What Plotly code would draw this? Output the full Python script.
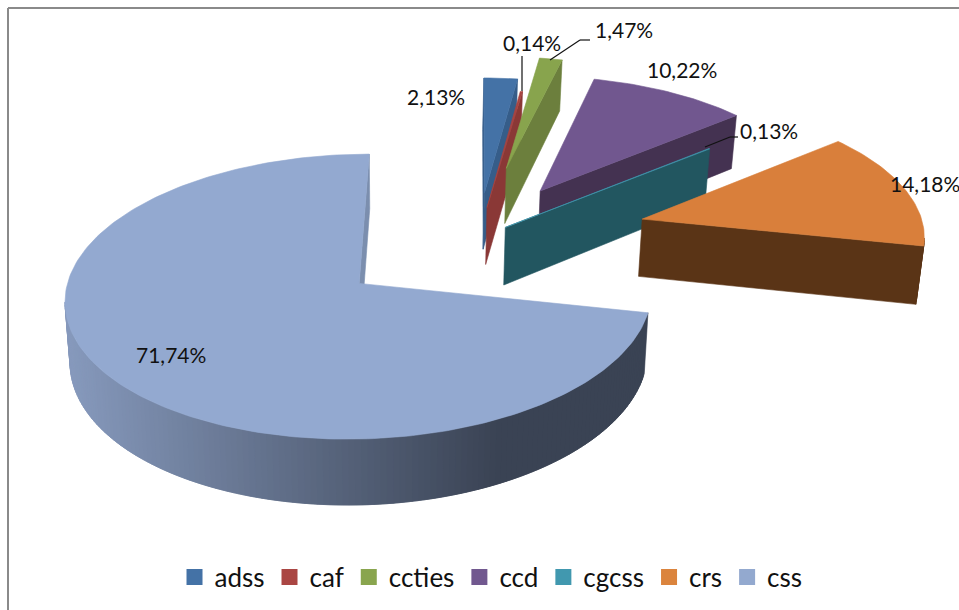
import math
import plotly.graph_objects as go

# data
categories = ["adss", "caf", "ccties", "ccd", "cgcss", "crs", "css"]
shares = [2.13, 0.14, 1.47, 10.22, 0.13, 14.18, 71.74]
labels = ["2,13%", "0,14%", "1,47%", "10,22%", "0,13%", "14,18%", "71,74%"]

# style
top_colors = ["#4472a6", "#a84441", "#88a44d", "#71578f", "#4197ae", "#d97f3b", "#93a9d0"]
wall_colors = ["#365d89", "#8a3836", "#6c7f3d", "#443251", "#225660", "#5a3416", "#7b8eae"]
legend_colors = ["#4472a6", "#aa4643", "#89a54e", "#71588f", "#4198af", "#db843d", "#93a9cf"]
explode = [0.35, 0.235, 0.56, 0.43, 0.126, 0.605, 0.525]
label_xy = [(436, 96), (532, 42), (624, 29), (682, 69), (769, 130), (925, 183), (171, 354)]
CX, CY, BX, BY, PERSP, H = 478, 238, 283, 133, 0.09, 58
VANISH_X, BOTTOM_SCALE = 400, 0.985


def project(x, y, z=0.0):
    f = 1 / (1 + PERSP * y)
    sx = CX + BX * x * f
    if z:
        sx = VANISH_X + (sx - VANISH_X) * BOTTOM_SCALE
    return sx, CY - BY * y * f + H * z * f


def lerp_hex(a, b, t):
    ca = [int(a[i:i + 2], 16) for i in (1, 3, 5)]
    cb = [int(b[i:i + 2], 16) for i in (1, 3, 5)]
    return "#%02x%02x%02x" % tuple(round(p + (q - p) * t) for p, q in zip(ca, cb))


fig = go.Figure()


def poly(pts, color):
    fig.add_trace(go.Scatter(
        x=[p[0] for p in pts] + [pts[0][0]], y=[p[1] for p in pts] + [pts[0][1]],
        mode="lines", fill="toself", fillcolor=color,
        line=dict(color=color, width=0.6),
        hoverinfo="skip", showlegend=False))


start = 0.0
total = sum(shares)
for i, share in enumerate(shares):
    a0 = start
    a1 = start + share / total * 2 * math.pi
    start = a1
    mid = (a0 + a1) / 2
    ox, oy = explode[i] * math.sin(mid), explode[i] * math.cos(mid)
    n = max(2, int((a1 - a0) / 0.02))
    world = [(ox, oy)] + [
        (ox + math.sin(a0 + (a1 - a0) * k / n), oy + math.cos(a0 + (a1 - a0) * k / n))
        for k in range(n + 1)]
    m = len(world)
    for k in range(m):
        p, q = world[k], world[(k + 1) % m]
        sp, sq = project(*p), project(*q)
        if sq[0] >= sp[0]:
            continue  # wall faces away from the viewer
        rim = 0 < k < m - 1
        color = wall_colors[i]
        if i == 6 and rim:
            t = min(1.0, max(0.0, (sp[0] - 70) / 430))
            color = lerp_hex("#8699bc", "#3a4354", t)
            # overlap the next strip so no seams show between strips
            q2 = world[min(k + 2, m - 1)]
            if project(*q2)[0] < sq[0]:
                q = q2
                sq = project(*q)
        poly([sp, sq, project(*q, 1), project(*p, 1)], color)
    poly([project(*w) for w in world], top_colors[i])

for name, color in zip(categories, legend_colors):
    fig.add_trace(go.Scatter(
        x=[None], y=[None], mode="markers", name=name,
        marker=dict(symbol="square", size=16, color=color)))

for text, (x, y) in zip(labels, label_xy):
    fig.add_annotation(x=x, y=y, text=text, showarrow=False, xref="x", yref="y",
                       font=dict(family="Lato", size=21, color="#111111"))

leaders = [[(522, 91), (522, 56)], [(550, 60), (580, 40), (590, 40)], [(705, 147), (730, 137), (738, 137)]]
for leader in leaders:
    for p, q in zip(leader, leader[1:]):
        fig.add_shape(type="line", x0=p[0], y0=p[1], x1=q[0], y1=q[1],
                      line=dict(color="#111111", width=1.2))

fig.add_shape(type="line", x0=8, y0=8, x1=959, y1=8, line=dict(color="#8a8a8a", width=2))
fig.add_shape(type="line", x0=8, y0=8, x1=8, y1=610, line=dict(color="#8a8a8a", width=2))

fig.update_layout(
    width=959, height=610, margin=dict(l=0, r=0, t=0, b=0),
    paper_bgcolor="white", plot_bgcolor="white",
    xaxis=dict(range=[0, 959], visible=False, fixedrange=True),
    yaxis=dict(range=[610, 0], visible=False, fixedrange=True),
    legend=dict(orientation="h", x=0.512, xanchor="center", y=0.054, yanchor="middle",
                font=dict(family="Lato", size=26, color="#111111"),
                itemsizing="trace", itemwidth=30, tracegroupgap=0),
)
fig.write_html("out.html", config=dict(displayModeBar=False),
               post_script="document.body.style.margin='0';document.documentElement.style.overflow='hidden';")
